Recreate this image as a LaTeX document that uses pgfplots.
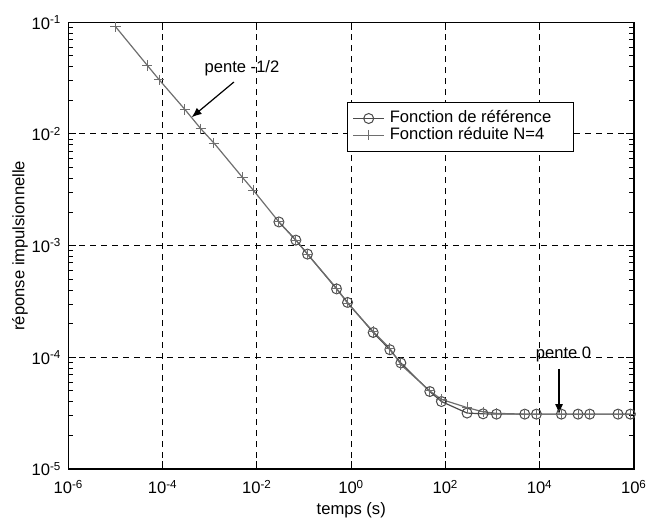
\documentclass[border=0pt]{standalone}
\usepackage{fontspec}
\setmainfont{Liberation Sans}
\usepackage{pgfplots}
\pgfplotsset{compat=1.18}
\usetikzlibrary{arrows.meta}

\definecolor{refc}{HTML}{4A4A4A}
\definecolor{redc}{HTML}{6E6E6E}

\begin{document}
\begin{tikzpicture}[font=\fontsize{8.3}{10}\selectfont]
\path[use as bounding box] (-34.25pt,-28pt) rectangle (296.25pt,234.5pt);
\begin{axis}[
  at={(0,0)}, anchor=south west,
  scale only axis, width=282.75pt, height=223.35pt,
  xmode=log, ymode=log,
  xmin=1e-6, xmax=1e6, ymin=1e-5, ymax=1e-1,
  xtick={1e-6,1e-4,1e-2,1,1e2,1e4,1e6},
  xticklabels={10\textsuperscript{-6},10\textsuperscript{-4},10\textsuperscript{-2},10\textsuperscript{0},10\textsuperscript{2},10\textsuperscript{4},10\textsuperscript{6}},
  ytick={1e-5,1e-4,1e-3,1e-2,1e-1},
  yticklabels={10\textsuperscript{-5},10\textsuperscript{-4},10\textsuperscript{-3},10\textsuperscript{-2},10\textsuperscript{-1}},
  xticklabel style={yshift=-2pt},
  xminorticks=false,
  tick align=inside, major tick length=4pt, minor tick length=2.5pt,
  tick style={black, line width=0.5pt},
  grid=major, major grid style={black, dashed, line width=0.5pt, dash pattern=on 3pt off 2.5pt},
  axis line style={black, line width=0.6pt},
  xlabel={temps (s)}, ylabel={réponse impulsionnelle},
  xlabel style={at={(axis description cs:0.5,-0.092)}, anchor=center},
  ylabel style={at={(axis description cs:-0.0858,0.5)}, anchor=center},
  legend style={at={(axis description cs:0.4925,0.822)}, anchor=north west,
    draw=black, line width=0.6pt, fill=white, font=\fontsize{8.3}{10}\selectfont,
    row sep=0pt, inner xsep=2.5pt, inner ysep=3.9pt,
    nodes={inner xsep=2.5pt, inner ysep=0pt, text height=6.2pt, text depth=2.1pt}},
  legend image code/.code={\draw[mark repeat=2,mark phase=2,#1] plot coordinates {(0pt,0pt) (7.75pt,0pt) (15.5pt,0pt)};},
  legend cell align=left,
  clip=false,
]
\addplot[refc, line width=0.6pt, mark=o, mark size=2.5pt, mark options={solid, line width=0.5pt}] coordinates {
 (0.0292,1.63e-3) (0.0668,1.12e-3) (0.118,8.4e-4) (0.488,4.1e-4) (0.836,3.1e-4)
 (2.92,1.67e-4) (6.6,1.17e-4) (11.3,8.9e-5) (46.5,4.94e-5) (82,4.02e-5)
 (287,3.17e-5) (627,3.12e-5) (1208,3.1e-5) (4810,3.1e-5) (8510,3.1e-5)
 (28800,3.1e-5) (64900,3.1e-5) (1.15e5,3.1e-5) (4.58e5,3.1e-5) (8.4e5,3.1e-5)
};
\addplot[redc, line width=0.6pt, mark=+, mark size=2.6pt, mark options={solid, line width=0.5pt}] coordinates {
 (1e-5,0.0912) (4.69e-5,0.0412) (8.4e-5,0.0306) (2.96e-4,0.01656) (6.46e-4,0.0111)
 (1.22e-3,0.0083) (4.95e-3,0.00407) (8.3e-3,0.00315)
 (0.0292,1.63e-3) (0.0668,1.12e-3) (0.118,8.4e-4) (0.488,4.15e-4) (0.836,3.05e-4)
 (2.92,1.7e-4) (6.6,1.2e-4) (11.3,8.6e-5) (46.5,5.0e-5) (82,4.2e-5)
 (287,3.55e-5) (627,3.25e-5) (1208,3.15e-5) (4810,3.1e-5) (8510,3.1e-5)
 (28800,3.1e-5) (64900,3.1e-5) (1.15e5,3.1e-5) (4.58e5,3.1e-5) (8.4e5,3.1e-5)
};
\legend{Fonction de référence\hspace*{6pt}\mbox{}, Fonction réduite N=4}
\draw[-{Latex[length=5pt,width=4pt]}, line width=0.6pt] (axis cs:3.24e-3,0.0292) -- (axis cs:4.1e-4,0.0141);
\node at (axis cs:4.8e-3,0.0388) {pente -1/2};
\draw[-{Latex[length=5pt,width=4pt]}, line width=0.6pt] (axis cs:2.57e4,7.9e-5) -- (axis cs:2.57e4,3.1e-5);
\node at (axis cs:3.2e4,1.07e-4) {pente 0};
\end{axis}
\end{tikzpicture}
\end{document}
